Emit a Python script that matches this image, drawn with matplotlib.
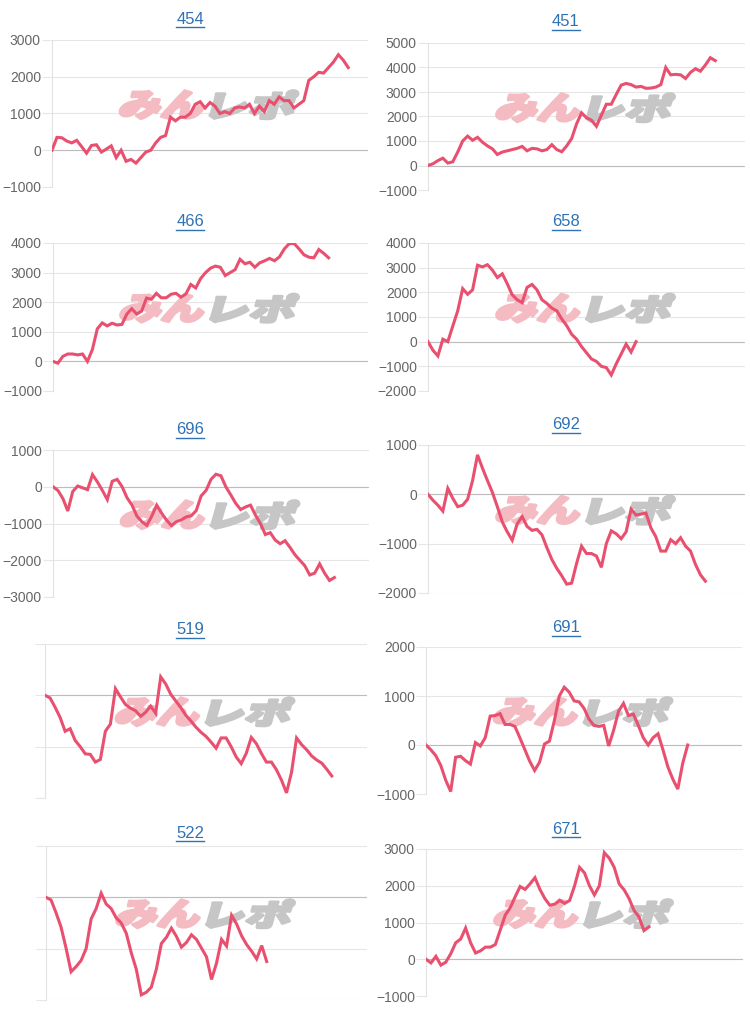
import matplotlib
matplotlib.use("Agg")
import matplotlib.pyplot as plt
from matplotlib.textpath import TextPath
from matplotlib.font_manager import FontProperties
from matplotlib.patches import PathPatch
from matplotlib.transforms import Affine2D, IdentityTransform
from matplotlib.lines import Line2D

W, H = 750, 1010

titles = ["454", "451", "466", "658", "696", "692", "519", "691", "522", "671"]

s454 = [0, 350, 340, 250, 200, 270, 100, -80, 130, 150, -50, 30, 120, -200, 0, -300, -250, -350, -200, -50,
        0, 200, 350, 400, 900, 800, 900, 900, 1000, 1250, 1320, 1150, 1300, 1200, 1000, 1050, 1000, 1150, 1180, 1150,
        1250, 1000, 1200, 1050, 1350, 1250, 1450, 1350, 1350, 1150, 1250, 1350, 1900, 2000, 2120, 2100, 2250, 2400,
        2600, 2450, 2250]
s451 = [0, 70, 200, 300, 100, 150, 550, 1000, 1200, 1030, 1150, 950, 800, 680, 450, 550, 600, 650, 700, 780,
        600, 700, 680, 600, 650, 850, 650, 560, 800, 1100, 1700, 2150, 1950, 1850, 1600, 2050, 2500, 2500, 2900, 3280,
        3350, 3300, 3200, 3230, 3150, 3160, 3200, 3300, 4000, 3700, 3720, 3700, 3550, 3800, 3950, 3850, 4100, 4400,
        4280]
s466 = [0, -60, 170, 250, 250, 220, 250, 0, 400, 1100, 1300, 1200, 1290, 1230, 1250, 1600, 1780, 1600, 1700, 2140,
        2100, 2300, 2150, 2150, 2270, 2300, 2170, 2280, 2600, 2480, 2800, 3000, 3150, 3220, 3180, 2900, 3000, 3100,
        3450, 3300, 3350, 3180, 3330, 3400, 3480, 3400, 3530, 3800, 3980, 3980, 3800, 3600, 3520, 3500, 3780, 3650,
        3500]
s658 = [0, -350, -580, 100, 0, 630, 1250, 2150, 1920, 2100, 3100, 3030, 3120, 2900, 2600, 2750, 2350, 1900, 1700,
        1580, 2200, 2320, 2100, 1700, 1550, 1360, 1250, 920, 650, 300, 100, -200, -450, -700, -800, -1000, -1050,
        -1350, -900, -500, -100, -420, 0]
s696 = [0, -100, -320, -660, -130, 20, -30, -80, 330, 130, -100, -350, 150, 200, 0, -300, -500, -800, -950, -1050,
        -800, -500, -720, -910, -1060, -950, -900, -820, -790, -650, -250, -100, 200, 340, 300, 0, -220, -450, -620,
        -550, -500, -770, -1000, -1300, -1250, -1450, -1550, -1470, -1650, -1850, -2000, -2150, -2400, -2350, -2100,
        -2350, -2550, -2470]
s692 = [0, -120, -220, -340, 120, -80, -250, -220, -100, 280, 800, 530, 280, 40, -250, -560, -760, -930, -600,
        -450, -650, -730, -710, -820, -1080, -1320, -1500, -1650, -1820, -1800, -1400, -1050, -1200, -1200, -1250,
        -1480, -1000, -740, -800, -900, -760, -300, -420, -400, -380, -680, -860, -1150, -1150, -920, -1000, -880,
        -1050, -1150, -1420, -1630, -1760]
s519 = [0, -50, -230, -430, -700, -650, -880, -1000, -1140, -1150, -1300, -1250, -700, -560, 130, -30, -180, -250,
        -300, -410, -330, -210, -350, 360, 220, 20, -110, -240, -390, -500, -620, -720, -800, -910, -1030, -830, -830,
        -1000, -1200, -1330, -1130, -820, -940, -1130, -1300, -1300, -1450, -1650, -1900, -1500, -830, -960, -1060,
        -1180, -1260, -1320, -1440, -1570]
s691 = [0, -100, -220, -420, -720, -950, -250, -230, -320, -390, 50, -20, 150, 590, 600, 640, 420, 420, 380, 150,
        -90, -330, -520, -350, 20, 80, 500, 1000, 1180, 1080, 900, 880, 750, 530, 400, 380, 400, -20, 300, 690, 850,
        600, 630, 400, 150, 0, 150, 230, -100, -450, -700, -900, -370, 0]
s522 = [0, -50, -300, -580, -990, -1450, -1350, -1230, -1000, -420, -220, 80, -130, -220, -400, -500, -700, -1080,
        -1400, -1900, -1850, -1750, -1400, -900, -780, -600, -760, -970, -880, -730, -820, -990, -1160, -1600, -1280,
        -820, -950, -350, -520, -750, -920, -1050, -1200, -940, -1250]
s671 = [0, -100, 80, -160, -80, 150, 450, 550, 850, 450, 170, 230, 330, 330, 400, 800, 1200, 1400, 1700, 1980,
        1900, 2050, 2220, 1900, 1650, 1470, 1500, 1600, 1520, 1600, 2000, 2500, 2350, 2000, 1750, 2000, 2900, 2750,
        2500, 2050, 1890, 1650, 1330, 1150, 780, 880]

series = [s454, s451, s466, s658, s696, s692, s519, s691, s522, s671]
y_lo = [-1000, -1000, -1000, -2000, -3000, -2000, -2000, -1000, -2000, -1000]
y_hi = [3000, 5000, 4000, 4000, 1000, 1000, 1000, 2000, 1000, 3000]
show_labels = [True, True, True, True, True, True, False, True, False, True]
n_days = 64

# axes boxes in pixels: left, top, right, bottom
boxes = [(52, 40, 368, 187), (428, 43, 745, 190),
         (53, 243, 368, 391), (428, 243, 745, 391),
         (53, 450, 369, 597), (428, 445, 745, 593),
         (45, 644, 367, 798), (426, 647, 742, 794),
         (46, 846, 367, 1000), (426, 849, 743, 996)]
title_pos = [(190, 19), (566, 22), (190, 222), (566, 222), (190, 430),
             (566, 425), (190, 630), (566, 628), (190, 833), (566, 829)]

plt.rcParams['font.family'] = ['Liberation Sans', 'DejaVu Sans']

LINE = '#e9506f'
GRID = '#e6e6e6'
TITLE = '#2f72b4'

fig = plt.figure(figsize=(W / 100, H / 100), dpi=100)
wm_prop = FontProperties(family=['Noto Sans CJK JP'], weight='black')


def watermark(ax, box):
    # faint "みんレポ" logo behind each line
    x0, y0, x1, y1 = box
    cx = (x0 + x1) / 2
    cy = H - (y0 + 0.44 * (y1 - y0))
    for txt, col, left in (("みん", '#f4bcc2', cx - 88), ("レポ", '#c6c6c6', cx + 3)):
        p = TextPath((0, 0), txt, size=1, prop=wm_prop)
        e = p.get_extents()
        tr = (Affine2D().translate(-e.x0, -e.y0)
              .scale(82 / e.width, 28 / e.height)
              .skew_deg(16, 0)
              .translate(left - 4, cy - 14))
        patch = PathPatch(tr.transform_path(p), transform=IdentityTransform(),
                          fc=col, ec=col, lw=2.2, joinstyle='round', zorder=1.5)
        ax.add_artist(patch)


for i, s in enumerate(series):
    x0, y0, x1, y1 = boxes[i]
    ax = fig.add_axes([x0 / W, 1 - y1 / H, (x1 - x0) / W, (y1 - y0) / H])
    ax.plot(range(len(s)), s, color=LINE, lw=2.2, zorder=3, solid_joinstyle='miter')
    ax.set_xlim(0, n_days)
    ax.set_ylim(y_lo[i], y_hi[i])
    ax.set_yticks(range(y_lo[i], y_hi[i] + 1, 1000))
    ax.set_xticks([])
    ax.set_axisbelow(True)
    ax.yaxis.grid(True, color=GRID, lw=0.8)
    ax.axhline(0, color='#bdbdbd', lw=0.8, zorder=1)
    for side in ('top', 'right', 'bottom'):
        ax.spines[side].set_visible(False)
    ax.spines['left'].set_color('#e2e2e2')
    ax.spines['left'].set_linewidth(0.8)
    ax.tick_params(axis='y', length=7, width=0.8, color=GRID, labelsize=10,
                   labelcolor='#666666', pad=1, labelleft=show_labels[i])
    ax.patch.set_alpha(0)
    watermark(ax, boxes[i])

renderer = fig.canvas.get_renderer()
for t, (tx, ty) in zip(titles, title_pos):
    txt = fig.text(tx / W, 1 - ty / H, t, ha='center', va='center', fontsize=12, color=TITLE)
    bb = txt.get_window_extent(renderer)
    yl = (H - ty - 8) / H
    fig.add_artist(Line2D([bb.x0 / W, bb.x1 / W], [yl, yl], transform=fig.transFigure,
                          color=TITLE, lw=1))

fig.savefig('out.png', dpi=100, facecolor='white')
